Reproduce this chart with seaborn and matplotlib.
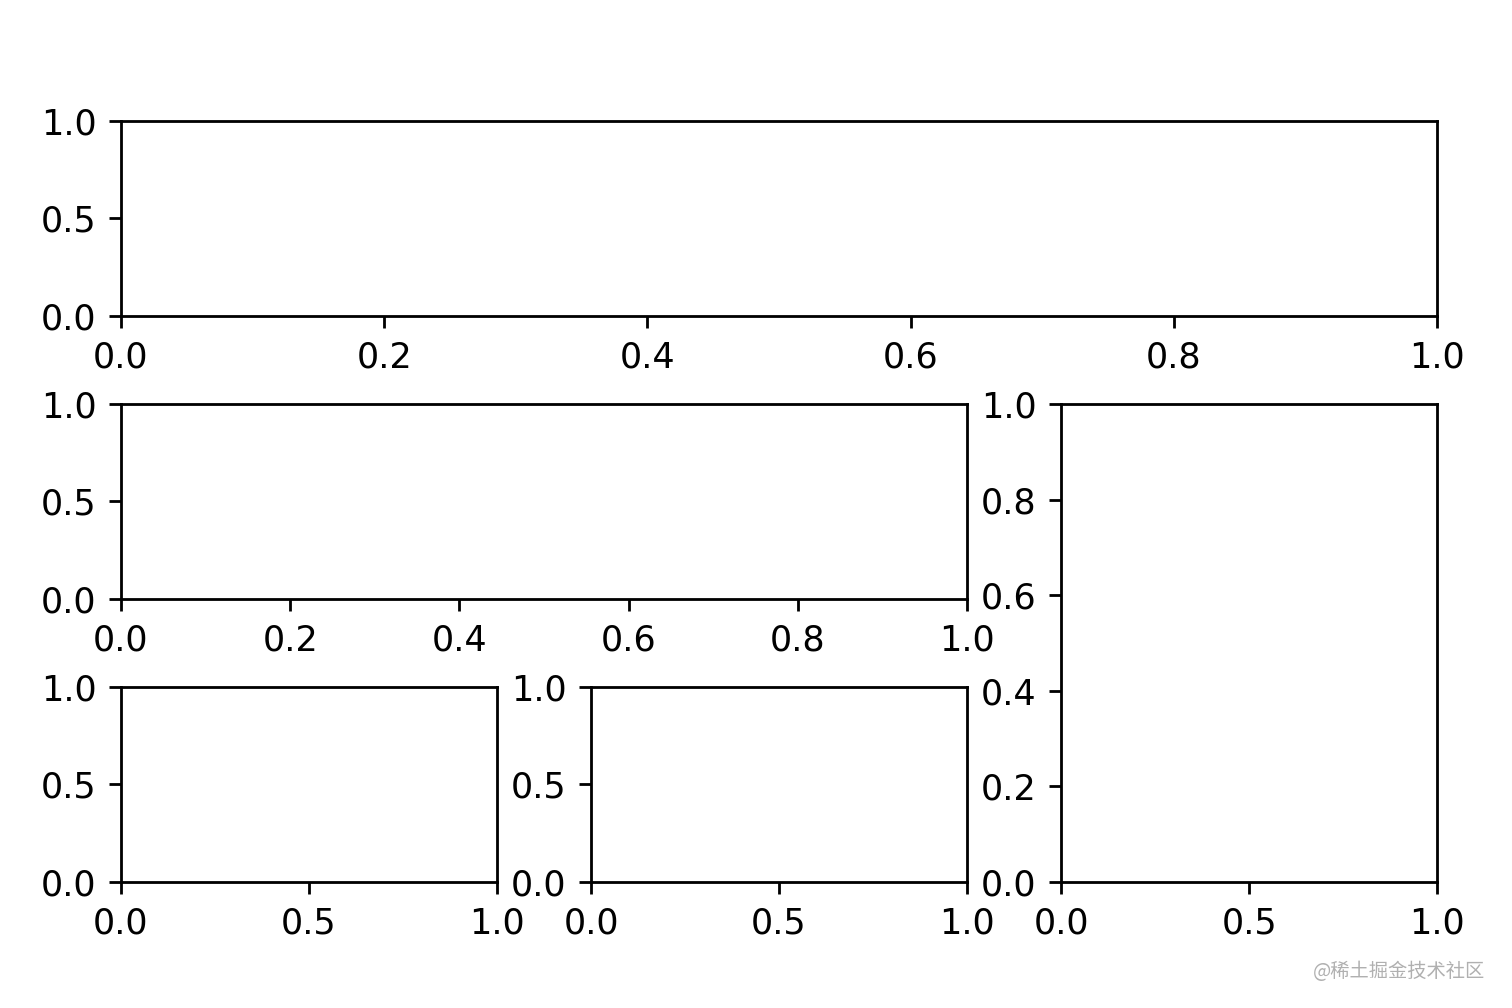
import matplotlib
matplotlib.use("Agg")
import matplotlib.pyplot as plt
import seaborn as sns

sns.set_style("ticks", rc={"axes.edgecolor": "black", "xtick.color": "black",
                           "ytick.color": "black", "text.color": "black",
                           "axes.labelcolor": "black"})
plt.rcParams['font.family'] = ['DejaVu Sans', 'Noto Sans CJK SC']
plt.rcParams['font.size'] = 10
plt.rcParams['xtick.direction'] = 'out'
plt.rcParams['ytick.direction'] = 'out'
plt.rcParams['xtick.major.size'] = 3.5
plt.rcParams['ytick.major.size'] = 3.5
plt.rcParams['axes.linewidth'] = 0.8

# grid layout specs: (row, col), rowspan, colspan
grid_shape = (3, 3)
specs = [((0, 0), 1, 3), ((1, 0), 1, 2), ((1, 2), 2, 1), ((2, 0), 1, 1), ((2, 1), 1, 1)]
watermark = "@稀土掘金技术社区"

fig = plt.figure(figsize=(6, 4), dpi=252)
gs = fig.add_gridspec(3, 3, left=0.08, right=0.9504, top=0.88, bottom=0.125,
                      wspace=0.251, hspace=0.451)
for (r, c), rs, cs in specs:
    ax = fig.add_subplot(gs[r:r + rs, c:c + cs])
    ax.set_xlim(0, 1)
    ax.set_ylim(0, 1)

fig.text(0.982, 0.026, watermark, ha='right', va='bottom', fontsize=5.5,
         color='#b0b0b0', family=['Noto Sans CJK SC', 'DejaVu Sans'])
fig.savefig("out.png", dpi=252)
